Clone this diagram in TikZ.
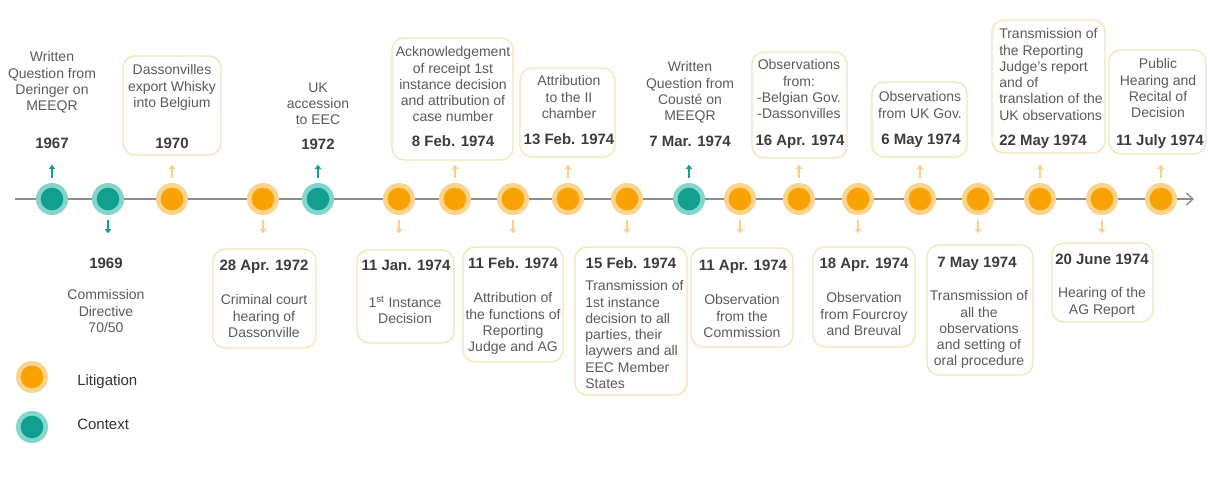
\documentclass[tikz,border=0pt]{standalone}
\usepackage{fontspec}
\setmainfont{Liberation Sans}
\usetikzlibrary{arrows.meta}
\definecolor{orD}{HTML}{F8A203}
\definecolor{orL}{HTML}{FAD38C}
\definecolor{teD}{HTML}{11A090}
\definecolor{teL}{HTML}{82D6CB}
\definecolor{bxc}{HTML}{F6E4B6}
\definecolor{txc}{HTML}{5A5A5A}
\definecolor{dtc}{HTML}{3C3C3C}
\definecolor{lgc}{HTML}{333333}
\definecolor{lnc}{HTML}{8C8C8C}
\definecolor{orA}{HTML}{F9D08A}
\begin{document}
\begin{tikzpicture}[x=0.75pt,y=-0.75pt,
 evbox/.style={draw=bxc, line width=1pt, rounded corners=9pt, inner sep=0pt},
 desc/.style={font=\fontsize{10.5}{12.2}\selectfont, text=txc, align=center, inner sep=0pt, anchor=north},
 descl/.style={font=\fontsize{10.5}{12.2}\selectfont, text=txc, align=left, inner sep=0pt, anchor=north west},
 datel/.style={font=\bfseries\fontsize{11.25}{13}\selectfont, text=dtc, inner sep=0pt, anchor=base},
 datew/.style={datel, anchor=base west},
 litc/.style={circle, fill=orL, minimum size=24pt, inner sep=0pt,
   path picture={\fill[orD] (path picture bounding box.center) circle (8.5pt);}},
 ctxc/.style={circle, fill=teL, minimum size=24pt, inner sep=0pt,
   path picture={\fill[teD] (path picture bounding box.center) circle (8.5pt);}},
 ostub/.style={draw=orA, line width=1.2pt, -{Triangle[width=4.8pt,length=3.2pt]}},
 tstub/.style={draw=teD, line width=1.4pt, -{Triangle[width=4.8pt,length=3.2pt]}},
 legtxt/.style={font=\fontsize{11.25}{13}\selectfont, text=lgc, inner sep=0pt, anchor=base west}
]
\useasboundingbox (0,0) rectangle (1208,476);

% timeline
\coordinate (tlS) at (15,199);
\coordinate (tlE) at (1194,199);
\draw[lnc, line width=1pt, -{Straight Barb[length=5pt,width=9pt]}] (tlS) -- (tlE);

% circles
\node[ctxc] (c1) at (52,199) {};
\node[ctxc] (c2) at (108,199) {};
\node[litc] (c3) at (172,199) {};
\node[litc] (c4) at (263,199) {};
\node[ctxc] (c5) at (318,199) {};
\node[litc] (c6) at (399,199) {};
\node[litc] (c7) at (455,199) {};
\node[litc] (c8) at (513,199) {};
\node[litc] (c9) at (568,199) {};
\node[litc] (c10) at (627,199) {};
\node[ctxc] (c11) at (689,199) {};
\node[litc] (c12) at (740,199) {};
\node[litc] (c13) at (799,199) {};
\node[litc] (c14) at (858,199) {};
\node[litc] (c15) at (920,199) {};
\node[litc] (c16) at (978,199) {};
\node[litc] (c17) at (1040,199) {};
\node[litc] (c18) at (1102,199) {};
\node[litc] (c19) at (1161,199) {};

% stubs
\draw[tstub] (c1.north) ++(0,-5) -- ++(0,-13);
\draw[tstub] (c2.south) ++(0,5) -- ++(0,13);
\draw[ostub] (c3.north) ++(0,-5) -- ++(0,-13);
\draw[ostub] (c4.south) ++(0,5) -- ++(0,13);
\draw[tstub] (c5.north) ++(0,-5) -- ++(0,-13);
\draw[ostub] (c6.south) ++(0,5) -- ++(0,13);
\draw[ostub] (c7.north) ++(0,-5) -- ++(0,-13);
\draw[ostub] (c8.south) ++(0,5) -- ++(0,13);
\draw[ostub] (c9.north) ++(0,-5) -- ++(0,-13);
\draw[ostub] (c10.south) ++(0,5) -- ++(0,13);
\draw[tstub] (c11.north) ++(0,-5) -- ++(0,-13);
\draw[ostub] (c12.south) ++(0,5) -- ++(0,13);
\draw[ostub] (c13.north) ++(0,-5) -- ++(0,-13);
\draw[ostub] (c14.south) ++(0,5) -- ++(0,13);
\draw[ostub] (c15.north) ++(0,-5) -- ++(0,-13);
\draw[ostub] (c16.south) ++(0,5) -- ++(0,13);
\draw[ostub] (c17.north) ++(0,-5) -- ++(0,-13);
\draw[ostub] (c18.south) ++(0,5) -- ++(0,13);
\draw[ostub] (c19.north) ++(0,-5) -- ++(0,-13);

% ---------- top events ----------
\node[desc] (t1) at (52,51.5) {Written\\Question from\\Deringer on\\MEEQR};
\node[datel] (d1) at (52,148.5) {1967};

\node[evbox, minimum width=73.5pt, minimum height=74.25pt] (b3) at (172,105.5) {};
\node[desc] (t3) at (172,64.5) {Dassonvilles\\export Whisky\\into Belgium};
\node[datel] (d3) at (172,148.5) {1970};

\node[desc] (t5) at (318,82.5) {UK\\accession\\to EEC};
\node[datel] (d5) at (318,149.5) {1972};

\node[evbox, minimum width=90.75pt, minimum height=91.5pt] (b7) at (452.5,99) {};
\node[desc] (t7) at (453,46.5) {Acknowledgement\\of receipt 1st\\instance decision\\and attribution of\\case number};
\node[datel] (d7) at (453,146.5) {8 Feb. 1974};

\node[evbox, minimum width=71.25pt, minimum height=66.75pt] (b9) at (567.5,112.5) {};
\node[desc] (t9) at (569,75.5) {Attribution\\to the II\\chamber};
\node[datel] (d9) at (569,144.5) {13 Feb. 1974};

\node[desc] (t11) at (690,61.5) {Written\\Question from\\Cousté on\\MEEQR};
\node[datel] (d11) at (690,146.5) {7 Mar. 1974};

\node[evbox, minimum width=71.25pt, minimum height=79.5pt] (b13) at (799.5,105) {};
\node[desc] (t13) at (799,59.5) {Observations\\from:\\-Belgian Gov.\\-Dassonvilles};
\node[datel] (d13) at (800,145.5) {16 Apr. 1974};

\node[evbox, minimum width=71.25pt, minimum height=56.25pt] (b15) at (919.5,119.5) {};
\node[desc] (t15) at (920,91.5) {Observations\\from UK Gov.};
\node[datel] (d15) at (921,144.5) {6 May 1974};

\node[evbox, minimum width=84.75pt, minimum height=99.75pt] (b17) at (1048.5,86.5) {};
\node[descl] (t17) at (999,28.5) {Transmission of\\the Reporting\\Judge's report\\and of\\translation of the\\UK observations};
\node[datew] (d17) at (999,145.5) {22 May 1974};

\node[evbox, minimum width=72.75pt, minimum height=78pt] (b19) at (1157.5,102) {};
\node[desc] (t19) at (1158,58.5) {Public\\Hearing and\\Recital of\\Decision};
\node[datel] (d19) at (1160,145.5) {11 July 1974};

% ---------- bottom events ----------
\node[datel] (d2) at (106,268.5) {1969};
\node[desc] (t2) at (106,289.5) {Commission\\Directive\\70/50};

\node[evbox, minimum width=77.25pt, minimum height=74.25pt] (b4) at (264.5,298.5) {};
\node[datel] (d4) at (264,270.5) {28 Apr. 1972};
\node[desc] (t4) at (264,294.5) {Criminal court\\hearing of\\Dassonville};

\node[evbox, minimum width=72.75pt, minimum height=69.75pt] (b6) at (405.5,296.5) {};
\node[datel] (d6) at (406,270.5) {11 Jan. 1974};
\node[desc] (t6) at (405,295.5) {1\textsuperscript{st} Instance\\Decision};

\node[evbox, minimum width=75pt, minimum height=86.25pt] (b8) at (513,304.5) {};
\node[datel] (d8) at (513,268.5) {11 Feb. 1974};
\node[desc] (t8) at (513,292.5) {Attribution of\\the functions of\\Reporting\\Judge and AG};

\node[evbox, minimum width=84pt, minimum height=111pt] (b10) at (631,321) {};
\node[datel] (d10) at (631,268.5) {15 Feb. 1974};
\node[descl] (t10) at (585,280.5) {Transmission of\\1st instance\\decision to all\\parties, their\\laywers and all\\EEC Member\\States};

\node[evbox, minimum width=76.5pt, minimum height=74.25pt] (b12) at (742,297.5) {};
\node[datel] (d12) at (743,270.5) {11 Apr. 1974};
\node[desc] (t12) at (742,294.5) {Observation\\from the\\Commission};

\node[evbox, minimum width=76.5pt, minimum height=75pt] (b14) at (864,297) {};
\node[datel] (d14) at (864,268.5) {18 Apr. 1974};
\node[desc] (t14) at (864,292.5) {Observation\\from Fourcroy\\and Breuval};

\node[evbox, minimum width=79.5pt, minimum height=97.5pt] (b16) at (980,310) {};
\node[datel] (d16) at (977,267.5) {7 May 1974};
\node[desc] (t16) at (979,290.5) {Transmission of\\all the\\observations\\and setting of\\oral procedure};

\node[evbox, minimum width=75.75pt, minimum height=59.25pt] (b18) at (1102.5,282.5) {};
\node[datel] (d18) at (1102,264.5) {20 June 1974};
\node[desc] (t18) at (1102,287.5) {Hearing of the\\AG Report};

% ---------- legend ----------
\node[litc] (lg1) at (32,377) {};
\node[legtxt] (lt1) at (77,385.5) {Litigation};
\node[ctxc] (lg2) at (32,427) {};
\node[legtxt] (lt2) at (77,429.5) {Context};
\end{tikzpicture}
\end{document}
